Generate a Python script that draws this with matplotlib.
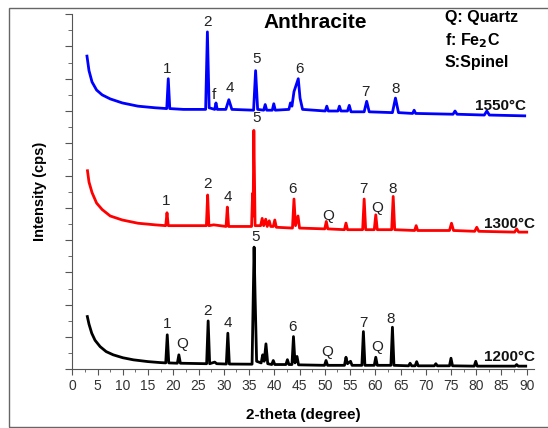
import matplotlib
matplotlib.use('Agg')
import matplotlib.pyplot as plt
from matplotlib.ticker import MultipleLocator
from matplotlib.patches import Rectangle

plt.rcParams['font.family'] = ['Liberation Sans', 'DejaVu Sans']

# XRD patterns, (2-theta, intensity) with vertical offset already in
pts_1550 = [(2.9, 19.4), (3.3, 18.5), (3.9, 17.8), (4.8, 17.3), (5.9, 17.0), (7.5, 16.75),
            (9.9, 16.5), (13.0, 16.3), (16.4, 16.2), (18.7, 16.15), (19.0, 18.0), (19.3, 16.15),
            (22.0, 16.1), (26.4, 16.1), (26.75, 20.9), (27.1, 16.2), (28.2, 16.1), (28.45, 16.5),
            (28.7, 16.1), (30.4, 16.1), (31.0, 16.7), (31.6, 16.1), (35.9, 16.05), (36.3, 18.5),
            (36.7, 16.1), (37.9, 16.05), (38.2, 16.4), (38.5, 16.05), (39.6, 16.05), (39.9, 16.45),
            (40.2, 16.05), (42.9, 16.1), (43.2, 16.5), (43.5, 16.3), (43.9, 17.2), (44.75, 18.0),
            (45.1, 16.8), (45.6, 16.1), (50.1, 16.0), (50.4, 16.3), (50.7, 16.0), (52.6, 16.0),
            (52.9, 16.3), (53.2, 16.0), (54.5, 16.0), (54.85, 16.35), (55.2, 15.95), (57.8, 15.95),
            (58.3, 16.6), (58.8, 15.95), (63.4, 15.9), (64.0, 16.8), (64.6, 15.9), (67.4, 15.85),
            (67.7, 16.05), (68.0, 15.85), (75.4, 15.8), (75.8, 16.0), (76.2, 15.8), (81.6, 15.75),
            (82.1, 16.0), (82.6, 15.75), (89.6, 15.7)]

pts_1300 = [(3.0, 12.3), (3.3, 11.6), (3.9, 10.95), (4.8, 10.3), (5.9, 9.9), (7.5, 9.5),
            (9.9, 9.25), (13.0, 9.05), (16.4, 8.95), (18.5, 8.9), (18.75, 9.7), (19.0, 8.9),
            (22.0, 8.9), (26.55, 8.9), (26.8, 10.8), (27.05, 8.9), (28.0, 8.95), (30.45, 8.85),
            (30.7, 10.05), (30.95, 8.85), (35.5, 8.85), (35.7, 10.9), (35.8, 9.5), (35.95, 14.8),
            (36.2, 8.9), (37.3, 8.9), (37.6, 9.35), (37.9, 8.9), (38.3, 9.3), (38.6, 8.85),
            (39.0, 9.2), (39.3, 8.85), (39.8, 8.85), (40.1, 9.25), (40.4, 8.8), (43.6, 8.75),
            (43.9, 10.55), (44.2, 8.9), (44.7, 9.5), (45.0, 8.75), (50.0, 8.7), (50.3, 9.16),
            (50.6, 8.7), (53.9, 8.65), (54.2, 9.06), (54.5, 8.65), (57.5, 8.65), (57.8, 10.55),
            (58.1, 8.65), (59.8, 8.65), (60.1, 9.57), (60.4, 8.65), (63.25, 8.65), (63.55, 10.71),
            (63.85, 8.65), (67.8, 8.6), (68.1, 8.9), (68.4, 8.6), (74.7, 8.6), (75.1, 9.05),
            (75.5, 8.6), (79.7, 8.55), (80.1, 8.8), (80.5, 8.55), (87.6, 8.5), (88.0, 8.7),
            (88.4, 8.5), (90.0, 8.5)]

pts_1200 = [(2.97, 3.27), (3.3, 2.8), (3.84, 2.24), (4.5, 1.8), (5.5, 1.41), (6.7, 1.1),
            (8.1, 0.9), (10.0, 0.72), (12.1, 0.59), (15.0, 0.48), (17.4, 0.42), (18.5, 0.4),
            (18.8, 2.14), (19.1, 0.4), (20.8, 0.38), (21.1, 0.9), (21.4, 0.38), (26.6, 0.35),
            (26.9, 3.0), (27.2, 0.35), (28.2, 0.45), (28.6, 0.35), (30.5, 0.33), (30.8, 2.24),
            (31.1, 0.33), (35.6, 0.32), (36.0, 7.57), (36.2, 4.5), (36.5, 0.5), (37.4, 0.4),
            (37.7, 0.9), (38.0, 0.5), (38.35, 1.58), (38.7, 0.35), (39.5, 0.3), (39.8, 0.55),
            (40.1, 0.3), (42.3, 0.3), (42.6, 0.6), (42.9, 0.3), (43.5, 0.3), (43.8, 2.03),
            (44.1, 0.4), (44.5, 0.8), (44.8, 0.28), (49.95, 0.25), (50.25, 0.55), (50.55, 0.25),
            (53.9, 0.25), (54.2, 0.75), (54.5, 0.35), (55.1, 0.5), (55.4, 0.25), (57.35, 0.25),
            (57.65, 2.34), (57.95, 0.25), (59.8, 0.25), (60.1, 0.75), (60.4, 0.25), (63.1, 0.25),
            (63.4, 2.61), (63.7, 0.25), (66.6, 0.22), (66.9, 0.38), (67.2, 0.22), (67.9, 0.22),
            (68.2, 0.48), (68.5, 0.22), (71.7, 0.22), (72.0, 0.35), (72.3, 0.22), (74.7, 0.22),
            (75.0, 0.69), (75.3, 0.22), (79.6, 0.2), (79.9, 0.5), (80.2, 0.2), (87.7, 0.2),
            (88.0, 0.3), (88.3, 0.2), (89.8, 0.2)]

# peak labels (text, 2-theta, intensity)
labels_1550 = [('1', 18.7, 18.6), ('2', 26.8, 21.5), ('f', 28.1, 17.0), ('4', 31.2, 17.4),
               ('5', 36.4, 19.2), ('6', 44.9, 18.6), ('7', 58.0, 17.15), ('8', 64.0, 17.35)]
labels_1300 = [('1', 18.55, 10.4), ('2', 26.8, 11.45), ('4', 30.8, 10.65), ('5', 36.4, 15.55),
               ('6', 43.6, 11.15), ('Q', 50.7, 9.5), ('7', 57.6, 11.2), ('Q', 60.4, 10.0),
               ('8', 63.4, 11.2)]
labels_1200 = [('1', 18.8, 2.8), ('Q', 21.7, 1.55), ('2', 26.8, 3.6), ('4', 30.8, 2.9),
               ('5', 36.2, 8.2), ('6', 43.6, 2.65), ('Q', 50.4, 1.05), ('7', 57.6, 2.9),
               ('Q', 60.4, 1.4), ('8', 63.0, 3.1)]

temps = ['1550°C', '1300°C', '1200°C']
temp_x = [89.8, 91.7, 91.7]
temp_y = [16.3, 9.0, 0.75]
colors = ['#0000ff', '#ff0000', '#000000']

fig = plt.figure(figsize=(5.48, 4.28), dpi=100)
ax = fig.add_axes([0.132, 0.137, 0.843, 0.830])

series = [pts_1550, pts_1300, pts_1200]
all_labels = [labels_1550, labels_1300, labels_1200]
for pts, col, labs, t, tx, ty in zip(series, colors, all_labels, temps, temp_x, temp_y):
    xs = [p[0] for p in pts]
    ys = [p[1] for p in pts]
    ax.plot(xs, ys, color=col, lw=2.0, solid_joinstyle='round')
    for txt, lx, ly in labs:
        ax.text(lx, ly, txt, ha='center', va='center', fontsize=11, color='#222222')
    ax.text(tx, ty, t, ha='right', va='center', fontsize=11, fontweight='bold', color='#111111')

ax.set_xlim(0, 91.5)
ax.set_ylim(0, 22)
ax.spines['top'].set_visible(False)
ax.spines['right'].set_visible(False)
ax.spines['left'].set_color('#555555')
ax.spines['bottom'].set_color('#555555')
ax.xaxis.set_minor_locator(MultipleLocator(2.5))
ax.yaxis.set_major_locator(MultipleLocator(2))
ax.yaxis.set_minor_locator(MultipleLocator(1))
ax.set_xticks(range(0, 91, 5))
ax.tick_params(axis='x', which='major', length=4, color='#555555', labelsize=10,
               labelcolor='#333333', pad=3)
ax.tick_params(axis='x', which='minor', length=2.5, color='#555555')
ax.tick_params(axis='y', which='major', length=5, color='#555555', labelleft=False)
ax.tick_params(axis='y', which='minor', length=3, color='#555555')

ax.set_xlabel('2-theta (degree)', fontsize=11, fontweight='bold', labelpad=11)
ax.set_ylabel('Intensity (cps)', fontsize=10.5, fontweight='bold', labelpad=12)

fig.text(0.575, 0.948, 'Anthracite', ha='center', va='center', fontsize=15, fontweight='bold')
fig.text(0.812, 0.958, 'Q: Quartz', ha='left', va='center', fontsize=11.5, fontweight='bold')
fig.text(0.812, 0.906, r'f: Fe$_\mathbf{2}$C', ha='left', va='center', fontsize=11.5, fontweight='bold')
fig.text(0.812, 0.853, 'S:Spinel', ha='left', va='center', fontsize=11.5, fontweight='bold')

# thin grey frame around the picture
fig.patches.append(Rectangle((9 / 548, 1 / 428), 1.2, 1 - 9 / 428, transform=fig.transFigure,
                             fill=False, edgecolor='#666666', lw=1.0))

fig.savefig('out.png', dpi=100)
